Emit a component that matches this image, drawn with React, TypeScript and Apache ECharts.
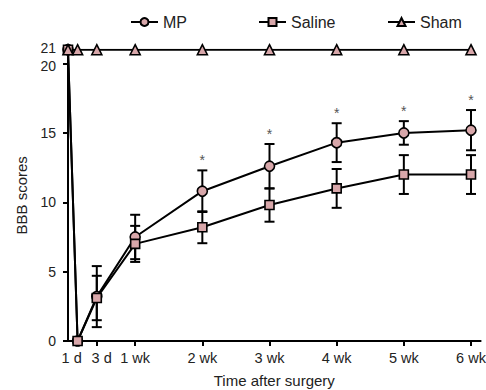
import React, { useEffect, useRef } from "react";
import * as echarts from "echarts";

const days = [0, 1, 3, 7, 14, 21, 28, 35, 42];
const mpMean = [21, 0, 3.2, 7.5, 10.8, 12.6, 14.3, 15.0, 15.2];
const mpSD = [0, 0, 2.2, 1.6, 1.5, 1.6, 1.4, 0.85, 1.45];
const salineMean = [21, 0, 3.1, 7.0, 8.2, 9.8, 11.0, 12.0, 12.0];
const salineSD = [0, 0, 1.6, 1.3, 1.15, 1.2, 1.4, 1.4, 1.4];
const shamMean = [21, 21, 21, 21, 21, 21, 21, 21, 21];
const significant = [false, false, false, false, true, true, true, true, true];
const xTickDays = [1, 3, 7, 14, 21, 28, 35, 42];
const xTickLabels = ["1 d", "3 d", "1 wk", "2 wk", "3 wk", "4 wk", "5 wk", "6 wk"];
const yTicks = [0, 5, 10, 15, 20, 21];
const yLabelsMain = [0, 5, 10, 15, 20];
const yLabelsTop = [21];

const PINK = "#d8a7aa";
const FONT = "Liberation Sans, Arial, sans-serif";
const TICK_FS = 14.5;
const Y_FS = 14;

export default function App() {
  const ref = useRef<HTMLDivElement>(null);
  useEffect(() => {
    if (!ref.current) return;
    const chart = echarts.init(ref.current, null, { renderer: "svg" });

    const errData = (mean: number[], sd: number[], star: boolean) =>
      days
        .map((d, i) => [d, mean[i] - sd[i], mean[i] + sd[i], star && significant[i] ? 1 : 0])
        .filter((_, i) => sd[i] > 0);

    const renderErr = (params: any, api: any) => {
      const x = api.value(0);
      const lo = api.coord([x, api.value(1)]);
      const hi = api.coord([x, api.value(2)]);
      const star = api.value(3);
      const hw = 5;
      const style = { stroke: "#000", lineWidth: 2 };
      const children: any[] = [
        { type: "line", shape: { x1: lo[0], y1: lo[1], x2: hi[0], y2: hi[1] }, style },
        { type: "line", shape: { x1: lo[0] - hw, y1: lo[1], x2: lo[0] + hw, y2: lo[1] }, style },
        { type: "line", shape: { x1: hi[0] - hw, y1: hi[1], x2: hi[0] + hw, y2: hi[1] }, style },
      ];
      if (star) {
        children.push({
          type: "text",
          style: {
            text: "*",
            x: hi[0],
            y: hi[1] - 3,
            align: "center",
            verticalAlign: "bottom",
            fill: "#555",
            font: `14px ${FONT}`,
          },
        });
      }
      return { type: "group", children };
    };

    const lineSeries = (name: string, data: number[], symbol: string, size: number) => ({
      name,
      type: "line",
      data: days.map((d, i) => [d, data[i]]),
      symbol,
      symbolSize: size,
      showAllSymbol: true,
      lineStyle: { color: "#000", width: 2 },
      itemStyle: { color: PINK, borderColor: "#000", borderWidth: 1.6 },
      z: 3,
    });

    const legendBase = {
      top: 14,
      padding: 0,
      itemWidth: 27,
      itemHeight: 10,
      itemGap: 10,
      textStyle: { fontSize: 16, color: "#222", fontFamily: FONT },
    };

    const yRich = { fontSize: Y_FS, color: "#222", fontFamily: FONT };

    chart.setOption({
      animation: false,
      textStyle: { fontFamily: FONT },
      legend: [
        { ...legendBase, left: 130, data: ["MP"] },
        { ...legendBase, left: 258, data: ["Saline"] },
        { ...legendBase, left: 387, data: ["Sham"] },
      ],
      grid: {
        left: 68,
        right: 5.4,
        top: 49.7,
        bottom: 49,
        containLabel: false,
        outerBoundsMode: "none",
      },
      xAxis: {
        type: "value",
        min: 0,
        max: 43,
        name: "Time after surgery",
        nameLocation: "middle",
        nameGap: 32,
        nameTextStyle: { fontSize: 15, color: "#222", fontFamily: FONT },
        axisLine: { lineStyle: { color: "#000", width: 2 } },
        axisTick: { customValues: xTickDays, length: 5, lineStyle: { color: "#000", width: 2 } },
        axisLabel: {
          customValues: xTickDays,
          margin: 9,
          fontSize: TICK_FS,
          color: "#222",
          fontFamily: FONT,
          hideOverlap: false,
          formatter: (v: number) => {
            const i = xTickDays.indexOf(v);
            const lab = i >= 0 ? xTickLabels[i] : "";
            if (i === 0) return `{l|${lab}}`;
            if (i === 1) return `{r|${lab}}`;
            return lab;
          },
          rich: {
            l: { width: 32, align: "left", fontSize: TICK_FS, color: "#222", fontFamily: FONT },
            r: { width: 30, align: "right", fontSize: TICK_FS, color: "#222", fontFamily: FONT },
          },
        },
        splitLine: { show: false },
      },
      yAxis: [
        {
          type: "value",
          min: 0,
          max: 21,
          position: "left",
          name: "BBB scores",
          nameLocation: "middle",
          nameGap: 39,
          nameTextStyle: { fontSize: 15, color: "#222", fontFamily: FONT },
          axisLine: { show: true, lineStyle: { color: "#000", width: 2 } },
          axisTick: { show: true, customValues: yTicks, length: 5, lineStyle: { color: "#000", width: 2 } },
          axisLabel: {
            customValues: yLabelsMain,
            margin: 12,
            fontSize: Y_FS,
            color: "#222",
            fontFamily: FONT,
            formatter: (v: number) => (v === 20 ? `{dn|${v}}` : `${v}`),
            rich: { dn: { ...yRich, padding: [4, 0, 0, 0] } },
          },
          splitLine: { show: false },
        },
        {
          type: "value",
          min: 0,
          max: 21,
          position: "left",
          offset: 0,
          axisLine: { show: false },
          axisTick: { show: false },
          axisLabel: {
            customValues: yLabelsTop,
            margin: 12,
            fontSize: Y_FS,
            color: "#222",
            fontFamily: FONT,
            showMaxLabel: true,
            formatter: (v: number) => `{up|${v}}`,
            rich: { up: { ...yRich, padding: [0, 0, 4.4, 0] } },
          },
          splitLine: { show: false },
        },
      ],
      series: [
        {
          type: "custom",
          name: "MP err",
          renderItem: renderErr,
          data: errData(mpMean, mpSD, true),
          encode: { x: 0, y: [1, 2] },
          z: 1,
          silent: true,
        },
        {
          type: "custom",
          name: "Saline err",
          renderItem: renderErr,
          data: errData(salineMean, salineSD, false),
          encode: { x: 0, y: [1, 2] },
          z: 1,
          silent: true,
        },
        lineSeries("MP", mpMean, "circle", 10),
        lineSeries("Saline", salineMean, "rect", 9),
        lineSeries("Sham", shamMean, "triangle", 10),
      ],
    });
    return () => chart.dispose();
  }, []);
  return <div ref={ref} style={{ width: 486, height: 390, position: "absolute", left: 0, top: 0 }} />;
}
